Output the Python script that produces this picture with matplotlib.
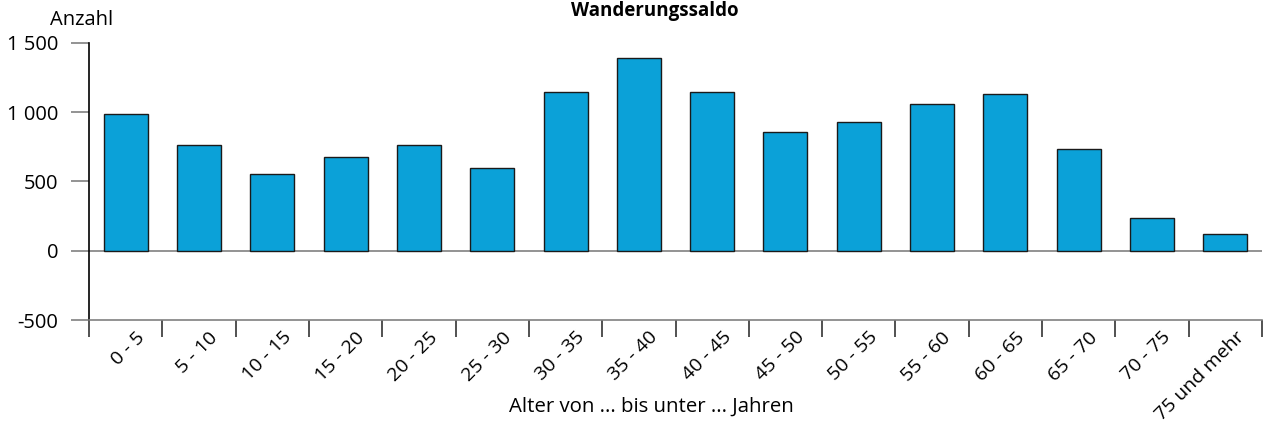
import matplotlib
matplotlib.use("Agg")
import matplotlib.pyplot as plt
import matplotlib.transforms as mtransforms
import numpy as np

plt.rcParams['font.family'] = ['Open Sans', 'DejaVu Sans']

categories = ["0 - 5", "5 - 10", "10 - 15", "15 - 20", "20 - 25", "25 - 30", "30 - 35",
              "35 - 40", "40 - 45", "45 - 50", "50 - 55", "55 - 60", "60 - 65", "65 - 70",
              "70 - 75", "75 und mehr"]
values = [985, 760, 557, 674, 760, 601, 1145, 1391, 1145, 855, 927, 1058, 1130, 732, 239, 123]
yticks = [-500, 0, 500, 1000, 1500]
yticklabels = ["-500", "0", "500", "1 000", "1 500"]

FS = 14.5

fig = plt.figure(figsize=(12.66, 4.23), dpi=100)
ax = fig.add_axes([89/1266, 1-320/423, (1262-89)/1266, (320-43)/423])

x = np.arange(len(categories))
ax.bar(x, values, width=0.6, color="#0ba1d8", edgecolor="#1a1a1a", linewidth=1.0, zorder=3)
ax.axhline(0, color="#808080", linewidth=1.2, zorder=2)

ax.set_xlim(-0.5, len(categories) - 0.5)
ax.set_ylim(-500, 1500)
ax.set_yticks(yticks)
ax.set_yticklabels(yticklabels, fontsize=FS)
ax.tick_params(axis='y', length=13, width=1.2, color="#808080", pad=9)

ax.set_xticks(x)
ax.set_xticklabels(categories, rotation=45, ha='right', va='top', rotation_mode='anchor', fontsize=14)
ax.tick_params(axis='x', which='major', length=0, pad=6)
ax.set_xticks(np.arange(len(categories) + 1) - 0.5, minor=True)
ax.tick_params(axis='x', which='minor', length=12, width=1.2, color="#333333")
offset = mtransforms.ScaledTranslation(7/72, 0, fig.dpi_scale_trans)
for lab in ax.get_xticklabels():
    lab.set_transform(lab.get_transform() + offset)

for s in ['top', 'right']:
    ax.spines[s].set_visible(False)
ax.spines['left'].set_color("#000000")
ax.spines['left'].set_linewidth(1.2)
ax.spines['bottom'].set_color("#808080")
ax.spines['bottom'].set_linewidth(1.2)

fig.text(655/1266, 1-11/423, "Wanderungssaldo", ha='center', va='center', fontsize=13.5, fontweight='bold')
fig.text(82/1266, 1-20/423, "Anzahl", ha='center', va='center', fontsize=FS)
fig.text(651/1266, 1-407/423, "Alter von ... bis unter ... Jahren", ha='center', va='center', fontsize=14.7)

fig.savefig("out.png", dpi=100)
